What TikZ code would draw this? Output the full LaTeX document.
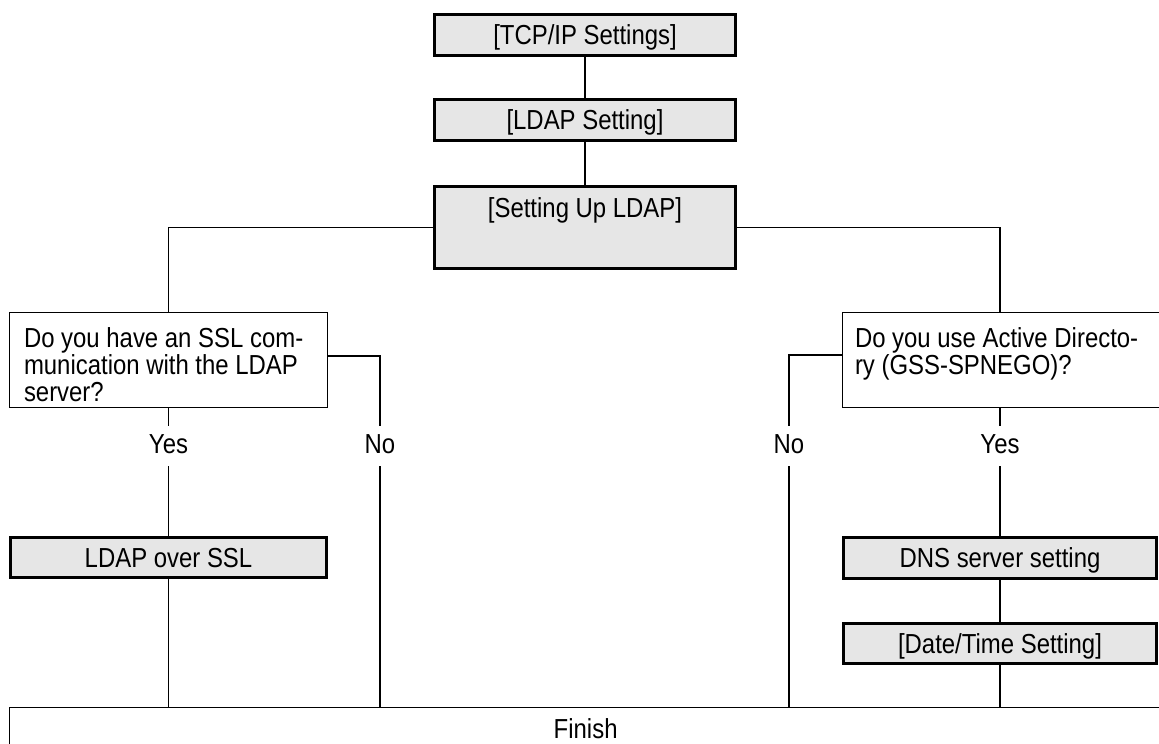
\documentclass[tikz,border=0pt]{standalone}
\usepackage{fontspec}
\setmainfont{Liberation Sans}[FakeStretch=0.87]
\definecolor{boxgray}{RGB}{230,230,230}
\begin{document}
\begin{tikzpicture}[x=1pt,y=-1pt,
  font=\fontsize{27.5}{27}\selectfont,
  graybox/.style={draw, line width=3.3pt, fill=boxgray, inner sep=0pt, minimum height=40.5pt, text height=19.7pt, text depth=0pt},
  qbox/.style={draw, line width=1.3pt, fill=white, align=left, inner ysep=0pt, anchor=north west, text height=34.35pt, text depth=60.35pt},
  conn/.style={line width=1.3pt},
  lbl/.style={inner xsep=4pt, inner ysep=7pt, text height=20pt, text depth=6pt}]
\clip (0,0) rectangle (1159,744);
% gray boxes
\node[graybox, minimum width=300.5pt] (tcp) at (585,35) {[TCP/IP Settings]};
\node[graybox, minimum width=300.5pt] (ldap) at (585,120) {[LDAP Setting]};
\node[graybox, minimum width=300.5pt, anchor=north, text height=30.35pt, text depth=51.15pt] (setup) at (585,185) {[Setting Up LDAP]};
\node[graybox, minimum width=315.7pt, minimum height=39.7pt] (ssl) at (168.5,557.5) {LDAP over SSL};
\node[graybox, minimum width=312.7pt] (dns) at (1000,558) {DNS server setting};
\node[graybox, minimum width=312.7pt] (date) at (1000,643.5) {[Date/Time Setting]};
% question boxes
\node[qbox, inner xsep=14.35pt, text width=289pt] (q1) at (9,312)
  {\spaceskip=0pt\relax\mbox{Do you have an SSL com-}\\\mbox{munication with the LDAP}\\server?};
\node[qbox, inner xsep=12.35pt, text width=300pt] (q2) at (842,312)
  {\spaceskip=0pt\relax\mbox{Do you use Active Directo-}\\\mbox{ry (GSS-SPNEGO)?}};
% finish
\node[draw, line width=1.3pt, anchor=north west, inner sep=0pt, minimum width=1152pt, text height=30.35pt, text depth=30pt] (fin) at (9,707) {Finish};
% labels
\node[lbl] (yes1) at (168.5,446) {Yes};
\node[lbl] (no1) at (380,446) {No};
\node[lbl] (no2) at (789,446) {No};
\node[lbl] (yes2) at (1000,446) {Yes};
\coordinate (n1) at (380,356);
\coordinate (n2) at (789,355);
% connectors
\draw[conn] (tcp) -- (ldap);
\draw[conn] (ldap) -- (setup);
\draw[conn] (setup.west) -- (setup.west -| q1.north) -- (q1.north);
\draw[conn] (setup.east) -- (setup.east -| dns.north) -- (dns.north |- q2.north);
\draw[conn] (q1.south) -- (yes1) -- (ssl.north);
\draw[conn] (ssl.south) -- (ssl.south |- fin.north);
\draw[conn] (q1.east |- n1) -- (n1) -- (no1) -- (no1 |- fin.north);
\draw[conn] (dns.north |- q2.south) -- (yes2) -- (dns.north);
\draw[conn] (dns.south) -- (date.north);
\draw[conn] (date.south) -- (date.south |- fin.north);
\draw[conn] (q2.west |- n2) -- (n2) -- (no2) -- (no2 |- fin.north);
\end{tikzpicture}
\end{document}
